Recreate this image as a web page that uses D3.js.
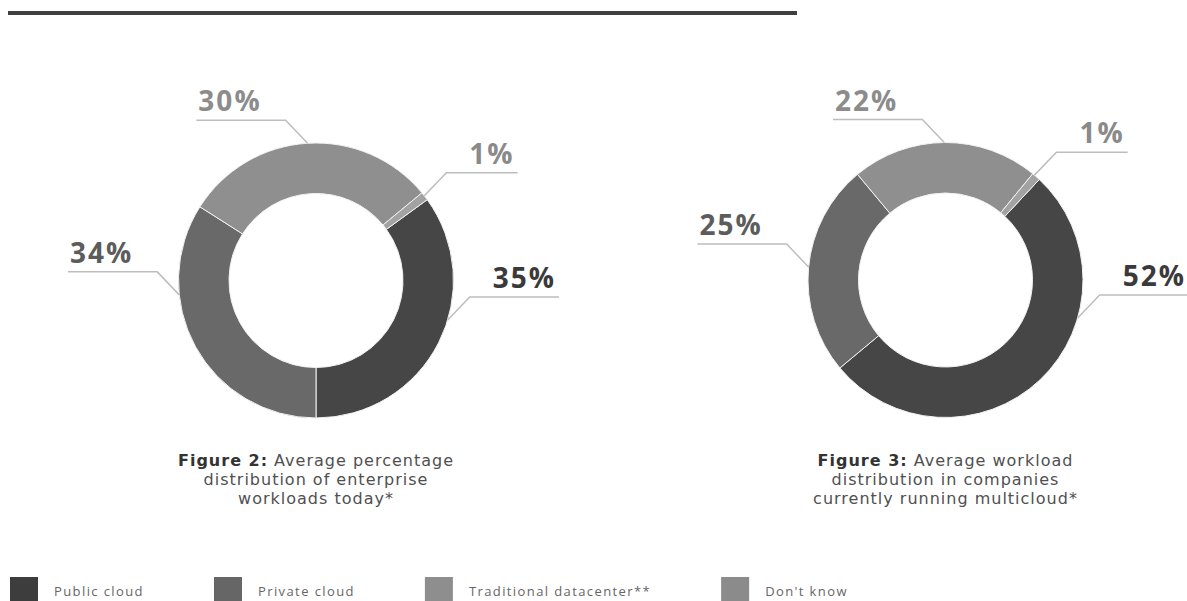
<!DOCTYPE html>
<html>
<head>
<meta charset="utf-8">
<script src="https://cdn.jsdelivr.net/npm/d3@7"></script>
<style>
  body { margin: 0; background: #fff; }
  #wrapper { width: 1187px; height: 601px; overflow: hidden; }
</style>
</head>
<body>
<div id="wrapper"></div>
<script>
// data
const categories = ["Public cloud", "Private cloud", "Traditional datacenter**", "Don't know"]
const todayValues = [35, 34, 30, 1]
const multicloudValues = [52, 25, 22, 1]
const todayCaption = ["Figure 2:", "Average percentage", "distribution of enterprise", "workloads today*"]
const multicloudCaption = ["Figure 3:", "Average workload", "distribution in companies", "currently running multicloud*"]
const sliceColors = ["#464646", "#696969", "#8f8f8f", "#a2a2a2"]
const legendColors = ["#3d3d3d", "#666666", "#8e8e8e", "#8b8b8b"]
const labelColors = ["#3a3a3a", "#5c5c5c", "#8c8c8c", "#8a8a8a"]

function drawCharts() {
  const dimensions = { width: 1187, height: 601 }

  const wrapper = d3.select("#wrapper")
    .append("svg")
      .attr("width", dimensions.width)
      .attr("height", dimensions.height)

  // rule at the top
  wrapper.append("line")
      .attr("x1", 8).attr("x2", 797)
      .attr("y1", 13).attr("y2", 13)
      .attr("stroke", "#3f3f3f")
      .attr("stroke-width", 4)

  const deg = Math.PI / 180
  const outerR = 137.5
  const arc = d3.arc().innerRadius(87).outerRadius(outerR)
  const bodyFont = "'Open Sans', sans-serif"
  const captionFont = "'DejaVu Sans', sans-serif"

  // label angles are where the leader lines touch the ring (degrees from top)
  const charts = [
    { values: todayValues, caption: todayCaption, cx: 316, cy: 280.5, start: 54, labelAngles: [106.7, 264, -3.5, 52] },
    { values: multicloudValues, caption: multicloudCaption, cx: 945.5, cy: 280, start: 43, labelAngles: [106, 275.4, -0.5, 40.3] },
  ]

  charts.forEach(chart => {
    const dataset = categories.map((c, i) => ({ category: c, value: chart.values[i], index: i }))

    const pie = d3.pie()
      .sort(null)
      .value(d => d.value)
      .startAngle(chart.start * deg)
      .endAngle(chart.start * deg + 2 * Math.PI)

    const bounds = wrapper.append("g")
        .attr("transform", `translate(${chart.cx},${chart.cy})`)

    bounds.selectAll("path.slice")
      .data(pie(dataset))
      .join("path")
        .attr("class", "slice")
        .attr("d", arc)
        .attr("fill", d => sliceColors[d.data.index])
        .attr("stroke", "#f2f2f2")
        .attr("stroke-width", 1)

    // leader lines + labels
    dataset.forEach((d, i) => {
      const a = chart.labelAngles[i] * deg
      const side = Math.sin(a) >= 0 ? 1 : -1
      const p = [outerR * Math.sin(a), -outerR * Math.cos(a)]
      const elbow = [p[0] + side * 22, p[1] - 23]

      const label = bounds.append("text")
          .attr("y", elbow[1] - 9)
          .attr("fill", labelColors[i])
          .style("font-family", bodyFont)
          .style("font-weight", 700)
          .style("font-size", "28px")
          .style("letter-spacing", "2px")
          .text(d.value + "%")

      const w = label.node().getComputedTextLength()
      const endX = elbow[0] + side * (w + 26)

      if (side > 0) {
        label.attr("x", endX - 3).attr("text-anchor", "end")
      } else {
        label.attr("x", endX + 2).attr("text-anchor", "start")
      }

      bounds.append("polyline")
          .attr("points", [p, elbow, [endX, elbow[1]]].map(q => q.join(",")).join(" "))
          .attr("fill", "none")
          .attr("stroke", "#bdbdbd")
          .attr("stroke-width", 1.5)
    })

    // caption: first line is a bold lead-in + regular text, measured and centred
    const capStyle = sel => sel
        .style("font-family", captionFont)
        .style("font-size", "16px")
        .style("letter-spacing", "1px")

    const gap = 6
    const bold = wrapper.append("text")
        .attr("y", 466)
        .attr("fill", "#333")
        .style("font-weight", 700)
        .call(capStyle)
        .text(chart.caption[0])
    const rest = wrapper.append("text")
        .attr("y", 466)
        .attr("fill", "#505050")
        .call(capStyle)
        .text(chart.caption[1])
    const bw = bold.node().getComputedTextLength()
    const rw = rest.node().getComputedTextLength()
    const x0 = chart.cx - (bw + gap + rw) / 2
    bold.attr("x", x0)
    rest.attr("x", x0 + bw + gap)

    chart.caption.slice(2).forEach((line, j) => {
      wrapper.append("text")
          .attr("x", chart.cx)
          .attr("y", 485 + j * 19)
          .attr("text-anchor", "middle")
          .attr("fill", "#505050")
          .call(capStyle)
          .text(line)
    })
  })

  // legend
  const legend = wrapper.append("g")
  let x = 10
  categories.forEach((c, i) => {
    legend.append("rect")
        .attr("x", x)
        .attr("y", 577)
        .attr("width", 28)
        .attr("height", 28)
        .attr("fill", legendColors[i])
    const t = legend.append("text")
        .attr("x", x + 44)
        .attr("y", 596)
        .attr("fill", "#666")
        .style("font-family", bodyFont)
        .style("font-size", "13px")
        .style("letter-spacing", "1.4px")
        .text(c)
    x = x + 44 + t.node().getComputedTextLength() + 70
  })
}

drawCharts()
</script>
</body>
</html>
